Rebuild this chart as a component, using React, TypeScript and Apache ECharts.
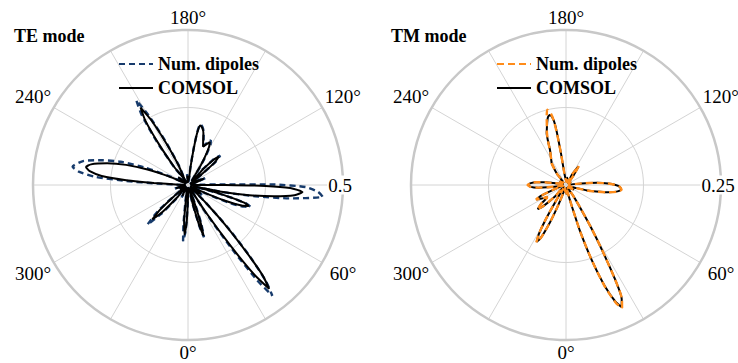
import React, { useEffect, useRef } from "react";
import * as echarts from "echarts";

// angle ticks (degrees) and radial maxima
const ANGLE_LABEL_TICKS = [0, 60, 120, 180, 240, 300];
const TE_RMAX = 0.5;
const TM_RMAX = 0.25;
const TE_TITLE = "TE mode";
const TM_TITLE = "TM mode";

// [angle°, normalized radius]
const TE_NUM_DIPOLES: [number, number][] = [
  [0, 0.04], [2, 0.01], [7, 0.015], [11.5, 0.01], [13.5, 0.06], [15.5, 0.14], [17, 0.176], [19, 0.13], [20.5, 0.06], [22.5, 0.01],
  [27, 0.025], [30.5, 0.01], [32.5, 0.1], [34.5, 0.25], [36, 0.38], [37.3, 0.449], [39, 0.4], [41, 0.3], [43, 0.19], [45, 0.09], [47.5, 0.02],
  [50, 0.01], [53, 0.045], [55, 0.055], [57, 0.045], [60, 0.01],
  [62.5, 0.01], [64.5, 0.06], [66.5, 0.14], [69, 0.195], [70.8, 0.213], [72.5, 0.195], [74, 0.135], [75.5, 0.065], [77, 0.02],
  [78.5, 0.12], [80.5, 0.22], [82.5, 0.33], [85, 0.436], [87, 0.42], [89, 0.38], [90.3, 0.28], [91, 0.12], [92, 0.02],
  [96, 0.01], [100, 0.02], [106, 0.01], [109, 0.03], [112, 0.06], [115, 0.03], [120, 0.01],
  [125.5, 0.01], [127.5, 0.05], [130, 0.115], [132.5, 0.141], [135, 0.12], [137, 0.07], [139.5, 0.02],
  [143, 0.02], [146, 0.065], [148.5, 0.11], [151, 0.15], [153, 0.162], [155.5, 0.15], [158.5, 0.135], [161, 0.155], [163.5, 0.178], [166, 0.193], [168.5, 0.2], [170, 0.175], [171.2, 0.12], [172.2, 0.06], [174, 0.01],
  [182, 0.01], [185, 0.035], [188, 0.01], [196, 0.01],
  [202.5, 0.01], [205, 0.07], [207.3, 0.16], [209.5, 0.26], [211.4, 0.32], [213.5, 0.27], [215.8, 0.17], [218, 0.07], [220.5, 0.01],
  [228, 0.01], [232, 0.04], [236, 0.01],
  [242, 0.01], [245, 0.07], [248, 0.15], [251, 0.23], [254, 0.29], [257, 0.345], [261, 0.377], [263, 0.355], [265, 0.3], [266.3, 0.2], [267.3, 0.1], [269, 0.02], [271, 0.01],
  [280, 0.01], [285, 0.045], [290, 0.01], [295, 0.01], [298, 0.03], [301, 0.01],
  [305.5, 0.01], [308.5, 0.06], [311, 0.13], [314.3, 0.183], [317, 0.13], [319.5, 0.06], [322.5, 0.01],
  [328, 0.01], [333, 0.045], [338, 0.01], [345, 0.01],
  [349, 0.01], [351.5, 0.06], [353.5, 0.13], [355, 0.182], [357, 0.15], [359, 0.07], [360, 0.04],
];

const TE_COMSOL: [number, number][] = [
  [0, 0.04], [2, 0.01], [7, 0.015], [12, 0.01], [14, 0.06], [15.5, 0.13], [17, 0.172], [18.5, 0.13], [20, 0.06], [22, 0.01],
  [27, 0.025], [31, 0.01], [33, 0.1], [35, 0.24], [36.5, 0.36], [38, 0.425], [39.5, 0.38], [41, 0.29], [43, 0.18], [45, 0.08], [47, 0.02],
  [50, 0.01], [53, 0.04], [55, 0.05], [57, 0.04], [60, 0.01],
  [63, 0.01], [65, 0.06], [67, 0.13], [69, 0.185], [71, 0.207], [72.5, 0.19], [74, 0.13], [75.5, 0.06], [77, 0.015],
  [78.5, 0.11], [80.5, 0.2], [82.5, 0.28], [84.5, 0.345], [86.5, 0.37], [88.3, 0.33], [89.3, 0.25], [90, 0.12], [91, 0.02],
  [96, 0.01], [100, 0.02], [106, 0.01], [109, 0.03], [112, 0.055], [115, 0.03], [120, 0.01],
  [126, 0.01], [128, 0.05], [130, 0.11], [132.5, 0.135], [134.5, 0.12], [136.5, 0.07], [139, 0.02],
  [143, 0.02], [146, 0.06], [148.5, 0.1], [151, 0.14], [153, 0.155], [155.5, 0.145], [158.5, 0.133], [161, 0.15], [163.5, 0.175], [166, 0.19], [168.5, 0.196], [170, 0.17], [171, 0.12], [172, 0.06], [174, 0.01],
  [182, 0.01], [185, 0.03], [188, 0.01], [196, 0.01],
  [203, 0.01], [205.5, 0.07], [207.5, 0.15], [209.5, 0.24], [211.5, 0.293], [213.5, 0.25], [215.5, 0.16], [217.5, 0.07], [220, 0.01],
  [228, 0.01], [232, 0.04], [236, 0.01],
  [243, 0.01], [246, 0.07], [249, 0.14], [252, 0.21], [255, 0.27], [258, 0.32], [260, 0.334], [262, 0.32], [264, 0.28], [265.5, 0.2], [266.5, 0.11], [268, 0.03], [270, 0.01],
  [280, 0.01], [285, 0.04], [290, 0.01], [295, 0.01], [298, 0.03], [301, 0.01],
  [306, 0.01], [309, 0.06], [311.5, 0.12], [314, 0.16], [316.5, 0.12], [319, 0.05], [322, 0.01],
  [328, 0.01], [333, 0.04], [338, 0.01], [345, 0.01],
  [350, 0.01], [352, 0.05], [354, 0.12], [356, 0.16], [358, 0.12], [360, 0.04],
];

const TM_NUM_DIPOLES: [number, number][] = [
  [0, 0.01], [4, 0.015], [8, 0.005], [13, 0.005], [15, 0.03], [17, 0.08], [19, 0.13], [21, 0.177], [23, 0.207], [24.5, 0.218], [26, 0.206], [27.5, 0.17], [29, 0.12], [30.5, 0.08], [32, 0.045], [34, 0.02], [37, 0.005],
  [50, 0.005], [60, 0.015], [66, 0.005],
  [71, 0.005], [73, 0.015], [75.5, 0.035], [77.7, 0.05], [80, 0.068], [82.5, 0.083], [85, 0.09], [88, 0.087], [90, 0.08], [92, 0.068], [94, 0.05], [96, 0.025], [98, 0.005],
  [115, 0.005], [125, 0.01], [130, 0.005],
  [138, 0.005], [142, 0.02], [146, 0.037], [150, 0.02], [154, 0.005],
  [165, 0.005], [170, 0.012], [175, 0.005],
  [186, 0.005], [188, 0.02], [189, 0.05], [189.8, 0.08], [190.7, 0.105], [192, 0.118], [194, 0.125], [196, 0.113], [198, 0.1], [200, 0.09], [202.5, 0.075], [204.6, 0.062], [208, 0.052], [211, 0.046], [213.4, 0.042], [216, 0.032], [218.5, 0.024], [222, 0.008],
  [230, 0.005], [240, 0.012], [248, 0.005],
  [259, 0.005], [261, 0.02], [262.5, 0.033], [264.5, 0.048], [267, 0.057], [270, 0.062], [273, 0.057], [275.5, 0.045], [277, 0.03], [279, 0.015], [281, 0.005],
  [288, 0.005], [291, 0.025], [293.5, 0.045], [296, 0.054], [299, 0.045], [302, 0.036], [304, 0.037], [307, 0.05], [310.6, 0.061], [313, 0.05], [316, 0.025], [319, 0.005],
  [325, 0.005], [327.5, 0.03], [329.5, 0.065], [331, 0.09], [332.7, 0.104], [334.5, 0.095], [336.5, 0.07], [338.5, 0.04], [341, 0.015], [344, 0.005],
  [352, 0.01], [360, 0.01],
];

const TM_COMSOL: [number, number][] = [
  [0, 0.01], [4, 0.015], [8, 0.005], [13, 0.005], [15, 0.03], [17, 0.08], [19, 0.13], [21, 0.175], [23, 0.205], [24.5, 0.216], [26, 0.205], [27.5, 0.17], [29, 0.12], [30.5, 0.08], [32, 0.045], [34, 0.02], [37, 0.005],
  [50, 0.005], [60, 0.015], [66, 0.005],
  [71, 0.005], [73, 0.015], [75.5, 0.035], [77.7, 0.05], [80, 0.068], [82.5, 0.082], [85, 0.089], [88, 0.087], [90, 0.08], [92, 0.068], [94, 0.05], [96, 0.025], [98, 0.005],
  [115, 0.005], [125, 0.01], [130, 0.005],
  [138, 0.005], [142, 0.02], [146, 0.036], [150, 0.02], [154, 0.005],
  [165, 0.005], [170, 0.012], [175, 0.005],
  [186, 0.005], [188, 0.02], [189, 0.05], [189.7, 0.08], [190.3, 0.1], [191.5, 0.112], [193, 0.116], [195, 0.113], [197, 0.104], [199, 0.095], [200.5, 0.089], [202.5, 0.075], [204.6, 0.062], [208, 0.052], [211, 0.046], [213.4, 0.042], [216, 0.032], [218.5, 0.024], [222, 0.008],
  [230, 0.005], [240, 0.012], [248, 0.005],
  [259, 0.005], [261, 0.02], [262.5, 0.033], [264.5, 0.048], [267, 0.057], [270, 0.061], [273, 0.057], [275.5, 0.045], [277, 0.03], [279, 0.015], [281, 0.005],
  [288, 0.005], [291, 0.025], [293.5, 0.045], [296, 0.053], [299, 0.045], [302, 0.036], [304, 0.037], [307, 0.05], [310.6, 0.06], [313, 0.05], [316, 0.025], [319, 0.005],
  [325, 0.005], [327.5, 0.03], [329.5, 0.065], [331, 0.09], [332.7, 0.103], [334.5, 0.095], [336.5, 0.07], [338.5, 0.04], [341, 0.015], [344, 0.005],
  [352, 0.01], [360, 0.01],
];

const SERIF = "Liberation Serif, Times New Roman, Times, serif";
const NAVY = "#173b6c";
const ORANGE = "#ff8c1a";
const GRID = "#d4d4d4";
const RIM = "#c8c8c8";

const CENTERS: [number, number][] = [[188, 185], [566, 185]];
const RADIUS = 155;

const toPolar = (pts: [number, number][]) => pts.map(([a, r]) => [r, a]);

export default function App() {
  const ref = useRef<HTMLDivElement>(null);
  useEffect(() => {
    document.body.style.margin = "0";
    if (!ref.current) return;
    const chart = echarts.init(ref.current, undefined, { renderer: "svg" });

    const angleAxis = (i: number) => ({
      polarIndex: i,
      type: "value",
      min: 0,
      max: 360,
      interval: 30,
      startAngle: 270,
      clockwise: false,
      axisLine: { show: true, lineStyle: { color: RIM, width: 2.5 } },
      axisTick: { show: false },
      splitLine: { show: true, lineStyle: { color: GRID, width: 1 } },
      axisLabel: {
        margin: 3,
        color: "#000",
        fontFamily: SERIF,
        fontSize: 19,
        formatter: (v: number) => {
          if (!ANGLE_LABEL_TICKS.includes(v)) return "";
          if (v === 60) return "{p|" + v + "°}";
          return v + "°";
        },
        rich: {
          p: { padding: [0, 0, 0, 5], fontFamily: SERIF, fontSize: 19, color: "#000" },
        },
      },
    });
    const radiusAxis = (i: number, max: number) => ({
      polarIndex: i,
      type: "value",
      min: 0,
      max,
      interval: max / 2,
      axisLine: { show: false },
      axisTick: { show: false },
      axisLabel: { show: false },
      splitLine: { show: true, lineStyle: { color: GRID, width: 1 } },
    });

    const legendBase = {
      orient: "vertical",
      itemWidth: 34,
      itemHeight: 14,
      itemGap: 4,
      padding: 0,
      itemStyle: { opacity: 0 },
      formatter: (n: string) => n.trim(),
      textStyle: { fontFamily: SERIF, fontSize: 18, fontWeight: "bold", color: "#000", lineHeight: 20 },
    };

    const titleStyle = { fontFamily: SERIF, fontSize: 18, fontWeight: "bold", color: "#000", lineHeight: 20 };

    const radiusLabel = (i: number, max: number) => ({
      type: "text",
      x: CENTERS[i][0] + RADIUS - 3,
      y: CENTERS[i][1],
      z: 100,
      style: {
        text: String(max),
        fontFamily: SERIF,
        fontSize: 19,
        fill: "#000",
        align: "center",
        verticalAlign: "middle",
        backgroundColor: "#fff",
        padding: [0, 1],
      },
    });

    chart.setOption({
      animation: false,
      backgroundColor: "#fff",
      textStyle: { fontFamily: SERIF },
      title: [
        { text: TE_TITLE, left: 14, top: 26, padding: 0, textStyle: titleStyle },
        { text: TM_TITLE, left: 391, top: 26, padding: 0, textStyle: titleStyle },
      ],
      polar: CENTERS.map((c) => ({ center: c, radius: RADIUS })),
      angleAxis: [angleAxis(0), angleAxis(1)],
      radiusAxis: [radiusAxis(0, TE_RMAX), radiusAxis(1, TM_RMAX)],
      legend: [
        { ...legendBase, data: ["Num. dipoles", "COMSOL"], left: 118, top: 54 },
        { ...legendBase, data: ["Num. dipoles ", "COMSOL "], left: 496, top: 54 },
      ],
      graphic: [radiusLabel(0, TE_RMAX), radiusLabel(1, TM_RMAX)],
      series: [
        {
          type: "line", name: "Num. dipoles", coordinateSystem: "polar", polarIndex: 0,
          data: toPolar(TE_NUM_DIPOLES), symbol: "none", smooth: 0.2, z: 3,
          lineStyle: { color: NAVY, width: 2.4, type: [6, 4] }, itemStyle: { color: NAVY },
        },
        {
          type: "line", name: "COMSOL", coordinateSystem: "polar", polarIndex: 0,
          data: toPolar(TE_COMSOL), symbol: "none", smooth: 0.2, z: 4,
          lineStyle: { color: "#000", width: 2 }, itemStyle: { color: "#000" },
        },
        {
          type: "line", name: "COMSOL ", coordinateSystem: "polar", polarIndex: 1,
          data: toPolar(TM_COMSOL), symbol: "none", smooth: 0.2, z: 3,
          lineStyle: { color: "#000", width: 2 }, itemStyle: { color: "#000" },
        },
        {
          type: "line", name: "Num. dipoles ", coordinateSystem: "polar", polarIndex: 1,
          data: toPolar(TM_NUM_DIPOLES), symbol: "none", smooth: 0.2, z: 4,
          lineStyle: { color: ORANGE, width: 2.4, type: [7, 4] }, itemStyle: { color: ORANGE },
        },
      ],
    });
    return () => chart.dispose();
  }, []);
  return <div ref={ref} style={{ position: "absolute", left: 0, top: 0, width: 738, height: 363 }} />;
}
